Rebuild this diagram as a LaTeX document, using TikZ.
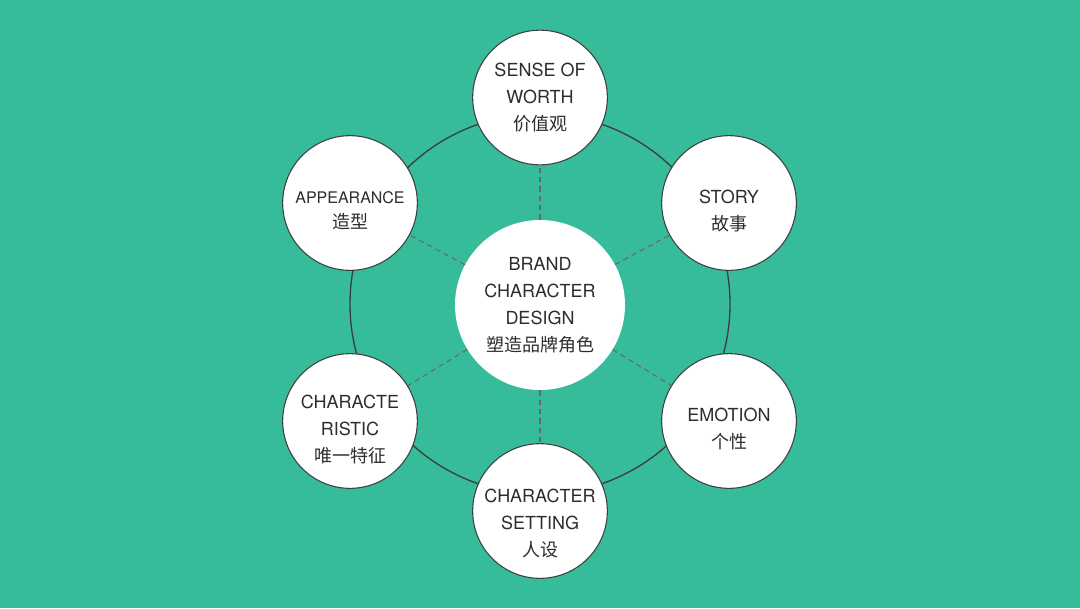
\documentclass[tikz,border=0pt]{standalone}
\usepackage{fontspec}
\setmainfont{TeX Gyre Heros}
\newfontfamily\cjk{Noto Sans CJK SC}
\usetikzlibrary{positioning}
\definecolor{bgteal}{RGB}{55,188,155}
\definecolor{inkgray}{RGB}{45,45,45}
\definecolor{ringgray}{RGB}{62,62,62}
\definecolor{dashgray}{RGB}{100,106,104}
\tikzset{
  hubnode/.style={circle, fill=white, minimum size=127.5pt, inner sep=0pt, align=center, text=inkgray},
  petal/.style={circle, draw=ringgray, line width=0.8pt, fill=white, minimum size=101pt, inner sep=0pt},
  petaltext/.style={align=center, text=inkgray, inner sep=0pt},
  ringline/.style={draw=ringgray, line width=1pt},
  spoke/.style={draw=dashgray, line width=0.8pt, dash pattern=on 4pt off 3pt}
}

\begin{document}
\begin{tikzpicture}[x=0.75pt, y=-0.75pt, every node/.style={font=\fontsize{13.5}{20.25}\selectfont}]
  \useasboundingbox (0,0) rectangle (1080,608);
  \fill[bgteal] (0,0) rectangle (1080,608);
  % ring behind the petals
  \coordinate (hub) at (540,304);
  \draw[ringline] (hub) circle[radius=142.5pt];
  \node[hubnode] (brand) at (540,305) {BRAND\\CHARACTER\\DESIGN\\{\cjk 塑造品牌角色}};
  \node[petal] (worth) at (540,97.5) {};
  \node[petal] (story) at (729,203) {};
  \node[petal] (emotion) at (729,421) {};
  \node[petal] (setting) at (540,511) {};
  \node[petal] (trait) at (350,421) {};
  \node[petal] (look) at (350,203) {};
  % labels sit a little low in the petals
  \node[petaltext] (worth-t) at (worth) {SENSE OF\\WORTH\\{\cjk 价值观}};
  \node[petaltext] (story-t) at ([yshift=-6pt]story) {STORY\\{\cjk 故事}};
  \node[petaltext] (emotion-t) at ([yshift=-6pt]emotion) {EMOTION\\{\cjk 个性}};
  \node[petaltext] (setting-t) at ([yshift=-9.5pt]setting) {CHARACTER\\SETTING\\{\cjk 人设}};
  \node[petaltext] (trait-t) at ([yshift=-6pt]trait) {CHARACTE\\RISTIC\\{\cjk 唯一特征}};
  \node[petaltext, font=\fontsize{12}{19}\selectfont] (look-t) at ([yshift=-6pt]look) {APPEARANCE\\{\cjk\fontsize{13.5}{19}\selectfont 造型}};
  % dashed spokes
  \foreach \p in {worth,story,emotion,setting,trait,look}
    \draw[spoke] (brand) -- (\p);
\end{tikzpicture}
\end{document}
